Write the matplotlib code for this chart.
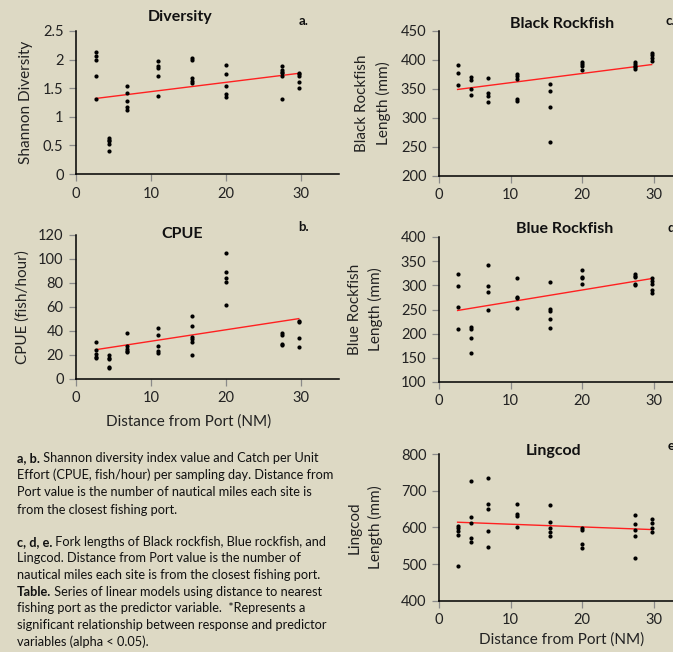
#!/usr/bin/env python3
import matplotlib
matplotlib.use("Agg")
import matplotlib.pyplot as plt

BG = "#DDD9C4"
plt.rcParams["font.family"] = ["Lato", "DejaVu Sans"]

# distance from port (NM) of each site
sites = [2.6, 4.4, 6.8, 10.9, 15.5, 20.0, 27.4, 29.7]

# a. Shannon diversity per sampling day
diversity = [
    [2.14, 2.07, 1.99, 1.71, 1.31],
    [0.63, 0.60, 0.57, 0.53, 0.40],
    [1.54, 1.41, 1.28, 1.18, 1.12],
    [1.98, 1.88, 1.86, 1.72, 1.36],
    [2.03, 2.00, 1.67, 1.62, 1.59],
    [1.91, 1.74, 1.54, 1.39, 1.34],
    [1.88, 1.82, 1.78, 1.76, 1.71, 1.31],
    [1.77, 1.74, 1.71, 1.61, 1.50],
]
diversity_trend = [1.32, 1.76]

# b. CPUE (fish/hour)
cpue = [
    [31.1, 24.4, 20.8, 18.0, 17.5],
    [19.7, 17.8, 16.4, 9.7, 9.2],
    [38.6, 27.5, 25.3, 23.6, 22.5],
    [42.5, 36.7, 27.2, 23.6, 21.9],
    [52.5, 43.9, 34.7, 33.1, 30.8, 19.7],
    [105.3, 88.9, 84.2, 80.6, 61.4],
    [38.0, 36.4, 28.9, 28.3],
    [48.0, 47.5, 33.9, 26.9],
]
cpue_trend = [24.4, 50.3]

# c. Black rockfish fork length (mm)
black = [
    [392, 377, 356],
    [371, 366, 349, 339],
    [369, 343, 337, 328],
    [376, 372, 367, 333, 329],
    [358, 347, 319, 259],
    [396, 393, 390, 383],
    [396, 393, 390, 387, 385],
    [412, 408, 403, 399],
]
black_trend = [349, 392]

# d. Blue rockfish fork length (mm)
blue = [
    [323, 298, 255, 209],
    [213, 209, 190, 159],
    [343, 298, 286, 248],
    [315, 276, 273, 254],
    [307, 252, 246, 230, 211],
    [332, 317, 315, 303],
    [324, 320, 318, 303, 301],
    [315, 309, 303, 290, 284],
]
blue_trend = [248, 314]

# e. Lingcod fork length (mm)
lingcod = [
    [603, 597, 590, 580, 494],
    [727, 627, 612, 572, 559],
    [734, 664, 651, 591, 546],
    [664, 637, 632, 601],
    [661, 614, 599, 586, 576],
    [599, 592, 554, 544],
    [633, 608, 593, 576, 516],
    [624, 611, 599, 587],
]
lingcod_trend = [614, 594]

trend_x = [sites[0], sites[-1]]

W, H = 673, 652
fig = plt.figure(figsize=(W / 100, H / 100), dpi=100)
fig.patch.set_facecolor(BG)


def fx(x):
    return x / W


def fy(y):
    return 1 - y / H


def px_axes(left, top, right, bottom):
    return fig.add_axes([fx(left), fy(bottom), (right - left) / W, (bottom - top) / H])


def panel(ax, groups, trend, ylim, yticks, ylabel, ylabel_x):
    ax.set_facecolor(BG)
    for x, ys in zip(sites, groups):
        ax.scatter([x] * len(ys), ys, s=9, color="black", zorder=3, linewidths=0)
    ax.plot(trend_x, trend, color="#FF2020", lw=1, zorder=2)
    ax.set_xlim(0, 35)
    ax.set_ylim(*ylim)
    ax.set_xticks([0, 10, 20, 30])
    ax.set_yticks(yticks)
    ax.set_yticklabels([("%g" % t) for t in yticks])
    for s in ("top", "right"):
        ax.spines[s].set_visible(False)
    for s in ("left", "bottom"):
        ax.spines[s].set_color("black")
        ax.spines[s].set_linewidth(1.1)
    ax.tick_params(axis="both", direction="out", length=5, width=0.9, color="#8A8A8A",
                   labelsize=10.5, labelcolor="#222222", pad=4)
    ax.set_ylabel(ylabel, fontsize=11, color="#222222", linespacing=1.55)
    ax.yaxis.set_label_coords(ylabel_x, 0.5)


ax_a = px_axes(76, 31, 338.5, 174)
panel(ax_a, diversity, diversity_trend, (0, 2.5), [0, 0.5, 1, 1.5, 2, 2.5],
      "Shannon Diversity", -0.164)

ax_b = px_axes(76, 235, 338.5, 379)
panel(ax_b, cpue, cpue_trend, (0, 120), [0, 20, 40, 60, 80, 100, 120],
      "CPUE (fish/hour)", -0.178)

ax_c = px_axes(439, 31, 689.6, 175.7)
panel(ax_c, black, black_trend, (200, 450), [200, 250, 300, 350, 400, 450],
      "Black Rockfish\nLength (mm)", -0.192)

ax_d = px_axes(439, 237, 689.6, 382)
panel(ax_d, blue, blue_trend, (100, 400), [100, 150, 200, 250, 300, 350, 400],
      "Blue Rockfish\nLength (mm)", -0.222)

ax_e = px_axes(439, 454, 689.6, 600.7)
panel(ax_e, lingcod, lingcod_trend, (400, 800), [400, 500, 600, 700, 800],
      "Lingcod\nLength (mm)", -0.222)

# titles
for x, y, s in [(180, 17, "Diversity"), (182, 234, "CPUE"), (562, 24, "Black Rockfish"),
                (565, 229, "Blue Rockfish"), (554, 451, "Lingcod")]:
    fig.text(fx(x), fy(y), s, ha="center", va="center", fontsize=11.5,
             fontweight="bold", color="#111111")

# x axis titles
for x, y in [(189, 422), (562, 640)]:
    fig.text(fx(x), fy(y), "Distance from Port (NM)", ha="center", va="center",
             fontsize=11, color="#222222")

# panel letters (c, d, e sit at the cropped right edge as in the source)
for x, y, s in [(304, 21, "a."), (304, 227, "b."), (670, 21, "c."),
                (673, 228, "d."), (673, 446, "e.")]:
    fig.text(fx(x), fy(y), s, ha="center", va="center", fontsize=9.5,
             fontweight="bold", color="#111111")

# caption
cap1 = [("a, b.", " Shannon diversity index value and Catch per Unit"),
        ("", "Effort (CPUE, fish/hour) per sampling day. Distance from"),
        ("", "Port value is the number of nautical miles each site is"),
        ("", "from the closest fishing port.")]
cap2 = [("c, d, e.", " Fork lengths of Black rockfish, Blue rockfish, and"),
        ("", "Lingcod. Distance from Port value is the number of"),
        ("", "nautical miles each site is from the closest fishing port."),
        ("Table.", " Series of linear models using distance to nearest"),
        ("", "fishing port as the predictor variable.  *Represents a"),
        ("", "significant relationship between response and predictor"),
        ("", "variables (alpha < 0.05).")]

renderer = fig.canvas.get_renderer()
x0 = 17
for block, ystart, step in ((cap1, 458, 17.2), (cap2, 541.7, 16.7)):
    for i, (bold, rest) in enumerate(block):
        y = ystart + i * step
        xp = x0
        if bold:
            t = fig.text(fx(xp), fy(y), bold, ha="left", va="center", fontsize=9.2,
                         fontweight="bold", color="#111111")
            xp += t.get_window_extent(renderer).width
        fig.text(fx(xp), fy(y), rest, ha="left", va="center", fontsize=9.2,
                 color="#111111")

fig.savefig("out.png", dpi=100, facecolor=BG)
